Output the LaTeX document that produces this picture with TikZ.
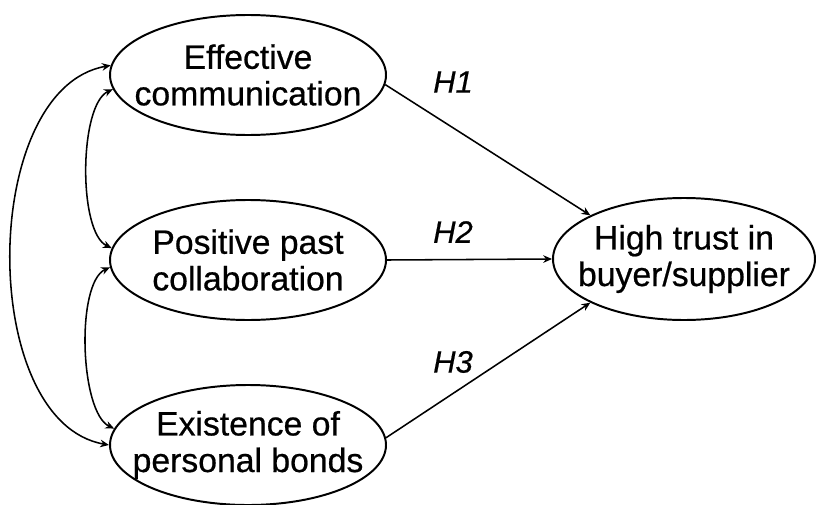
\documentclass[tikz,border=0pt]{standalone}
\usepackage{fontspec}
\setmainfont{Liberation Sans}[FakeBold=0.6]
\usetikzlibrary{shapes.geometric,arrows.meta}

\begin{document}
\begin{tikzpicture}[
    costrutto/.style={draw, ellipse, line width=1.4pt, minimum width=6.9cm, minimum height=3cm,
      inner xsep=-0.6cm, inner ysep=0pt, align=center, font=\fontsize{24}{26}\selectfont},
    freccia/.style={line width=1.1pt, -{Stealth[length=2.2mm, width=1.9mm]}},
    doppia/.style={line width=1.1pt, {Stealth[length=2.2mm, width=1.9mm]}-{Stealth[length=2.2mm, width=1.9mm]}},
    ipotesi/.style={font=\fontsize{22}{23}\selectfont\itshape}
  ]
  \useasboundingbox (0,0) rectangle (20.4,12.6);

  % Costrutti antecedenti (colonna di sinistra)
  \node[costrutto] (comm) at (6.2, 10.725) {Effective\\communication};
  \node[costrutto] (collab) at (6.2, 6.1) {Positive past\\collaboration};
  \node[costrutto] (bonds) at (6.2, 1.475) {Existence of\\personal bonds};

  % Costrutto dipendente
  \node[costrutto, minimum width=6.55cm, minimum height=3.05cm] (trust) at (17.1, 6.125) {High trust in\\buyer/supplier};

  % Ipotesi H1-H3
  \draw[freccia] (comm.356) -- (trust.155);
  \draw[freccia] (collab.east) -- (trust.west);
  \draw[freccia] (bonds.3) -- (trust.205);

  \node[ipotesi] (h1) at (11.325, 10.55) {H1};
  \node[ipotesi] (h2) at (11.325, 6.8) {H2};
  \node[ipotesi] (h3) at (11.325, 3.55) {H3};

  % Correlazioni tra gli antecedenti
  \draw[doppia] (comm.176) to[out=190, in=170, looseness=0.9] (bonds.180);
  \draw[doppia] (comm.186) to[out=205, in=155, looseness=0.6] (collab.175);
  \draw[doppia] (collab.183) to[out=205, in=155, looseness=0.6] (bonds.173);

\end{tikzpicture}
\end{document}
